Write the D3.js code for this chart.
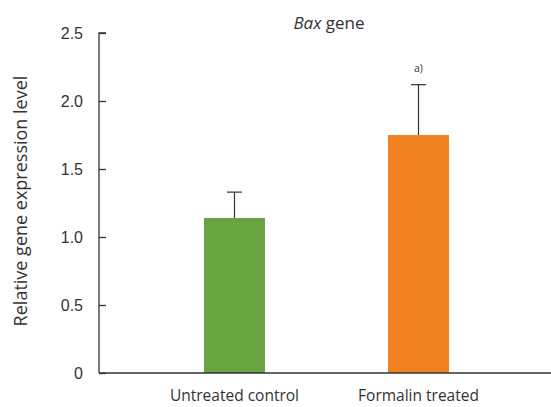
<!DOCTYPE html>
<html lang="en">
  <head>
    <meta charset="UTF-8" />
    <title>Bax gene</title>
    <script src="https://d3js.org/d3.v7.min.js"></script>
    <style>
      body {
        margin: 0;
        background: #fff;
      }
      svg {
        display: block;
        font-family: "Open Sans", "Noto Sans", sans-serif;
      }
    </style>
  </head>
  <body>
    <svg id="chart" width="551" height="407"></svg>
    <script>
      const categories = ["Untreated control", "Formalin treated"];
      const means = [1.14, 1.75];
      const errors = [0.19, 0.37];
      const marks = ["", "a)"];
      const colors = ["#6aa442", "#f28322"];
      const yTicks = [0, 0.5, 1.0, 1.5, 2.0, 2.5];

      const svg = d3.select("#chart");
      const margin = { left: 99, top: 33, right: 0, bottom: 34 };
      const width = +svg.attr("width");
      const height = +svg.attr("height");
      const axisColor = "#333";

      // bars are narrow, centred on their slot
      const slot = d3
        .scalePoint()
        .domain(categories)
        .range([234.5, 418.5]);
      const barW = 61;

      const y = d3
        .scaleLinear()
        .domain([0, 2.5])
        .range([height - margin.bottom, margin.top]);

      // bars
      svg
        .selectAll(".bar")
        .data(categories)
        .enter()
        .append("rect")
        .attr("x", (d) => slot(d) - barW / 2)
        .attr("y", (d, i) => y(means[i]))
        .attr("width", barW)
        .attr("height", (d, i) => y(0) - y(means[i]))
        .attr("fill", (d, i) => colors[i]);

      // error bars (upper only)
      const err = svg.append("g").attr("stroke", axisColor).attr("stroke-width", 1.2);
      categories.forEach((c, i) => {
        const cx = slot(c);
        err
          .append("line")
          .attr("x1", cx)
          .attr("x2", cx)
          .attr("y1", y(means[i]))
          .attr("y2", y(means[i] + errors[i]));
        err
          .append("line")
          .attr("x1", cx - 7.5)
          .attr("x2", cx + 7.5)
          .attr("y1", y(means[i] + errors[i]))
          .attr("y2", y(means[i] + errors[i]));
        if (marks[i]) {
          svg
            .append("text")
            .attr("x", cx)
            .attr("y", y(means[i] + errors[i]) - 13)
            .attr("text-anchor", "middle")
            .attr("font-size", 10.5)
            .attr("fill", axisColor)
            .text(marks[i]);
        }
      });

      // y axis
      const yAxis = svg
        .append("g")
        .attr("transform", `translate(${margin.left},0)`)
        .call(
          d3
            .axisRight(y)
            .tickValues(yTicks)
            .tickSize(7)
            .tickFormat((d) => (d === 0 ? "0" : d3.format(".1f")(d)))
        );
      yAxis.select(".domain").attr("stroke", axisColor).attr("stroke-width", 1.3)
        .attr("d", `M7,${y(2.5)}H0V${y(0)}`);
      yAxis.selectAll(".tick line").attr("stroke", axisColor).attr("stroke-width", 1.3);
      yAxis
        .selectAll(".tick text")
        .attr("x", -16)
        .attr("text-anchor", "end")
        .attr("font-size", 16)
        .attr("fill", axisColor);

      // x axis line
      svg
        .append("line")
        .attr("x1", margin.left)
        .attr("x2", width)
        .attr("y1", y(0))
        .attr("y2", y(0))
        .attr("stroke", axisColor)
        .attr("stroke-width", 1.3);

      svg
        .selectAll(".xlabel")
        .data(categories)
        .enter()
        .append("text")
        .attr("x", (d) => slot(d))
        .attr("y", 401)
        .attr("text-anchor", "middle")
        .attr("font-size", 15.5)
        .attr("fill", axisColor)
        .text((d) => d);

      // y label
      svg
        .append("text")
        .attr("transform", `translate(27,${(y(0) + y(2.5)) / 2 - 2}) rotate(-90)`)
        .attr("text-anchor", "middle")
        .attr("font-size", 18)
        .attr("fill", axisColor)
        .text("Relative gene expression level");

      // title
      const title = svg
        .append("text")
        .attr("x", 329)
        .attr("y", 29)
        .attr("text-anchor", "middle")
        .attr("font-size", 17)
        .attr("fill", axisColor);
      title.append("tspan").attr("font-style", "italic").text("Bax");
      title.append("tspan").text(" gene");
    </script>
  </body>
</html>
